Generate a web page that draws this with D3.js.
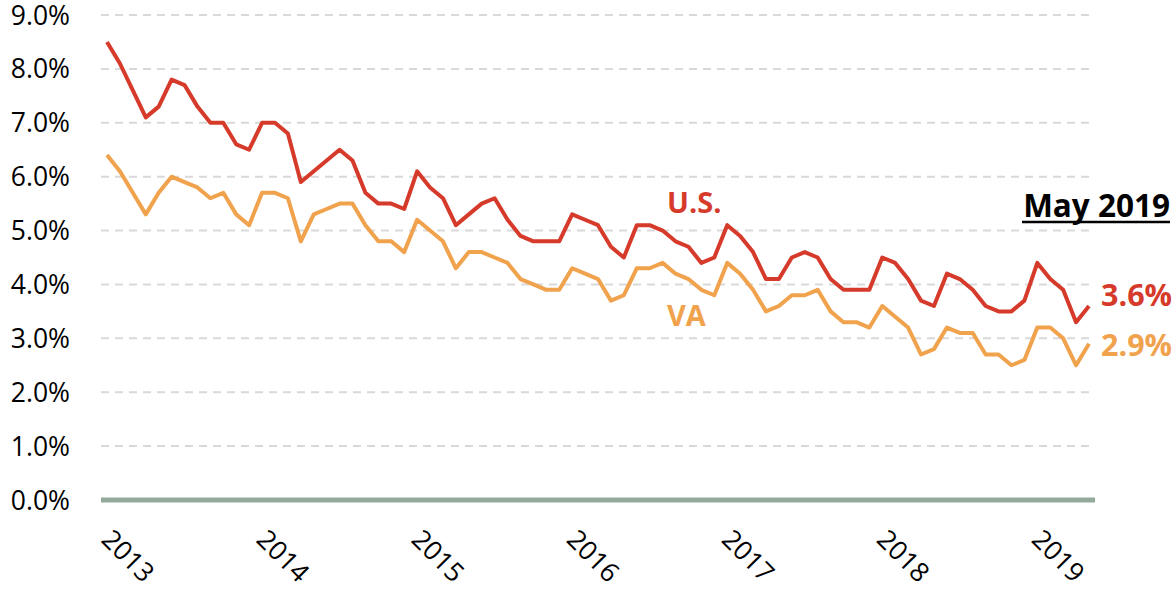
<!DOCTYPE html>
<meta charset="utf-8">
<style>
body { margin: 0; background: #fff; }
text { font-family: "Open Sans", sans-serif; }
.grid line { stroke: #d9d9d9; stroke-width: 2px; stroke-dasharray: 8,6; }
.ylab text, .xlab text { fill: #000; font-size: 26.5px; }
</style>
<svg width="1176" height="592"></svg>
<script src="https://d3js.org/d3.v7.min.js"></script>
<script>
var svg = d3.select("svg");

// monthly unemployment rate, Jan 2013 - May 2019
var years = [2013, 2014, 2015, 2016, 2017, 2018, 2019];
var yTicks = [0, 1, 2, 3, 4, 5, 6, 7, 8, 9];

var usRate = [
  8.5, 8.1, 7.6, 7.1, 7.3, 7.8, 7.7, 7.3, 7.0, 7.0, 6.6, 6.5,
  7.0, 7.0, 6.8, 5.9, 6.1, 6.3, 6.5, 6.3, 5.7, 5.5, 5.5, 5.4,
  6.1, 5.8, 5.6, 5.1, 5.3, 5.5, 5.6, 5.2, 4.9, 4.8, 4.8, 4.8,
  5.3, 5.2, 5.1, 4.7, 4.5, 5.1, 5.1, 5.0, 4.8, 4.7, 4.4, 4.5,
  5.1, 4.9, 4.6, 4.1, 4.1, 4.5, 4.6, 4.5, 4.1, 3.9, 3.9, 3.9,
  4.5, 4.4, 4.1, 3.7, 3.6, 4.2, 4.1, 3.9, 3.6, 3.5, 3.5, 3.7,
  4.4, 4.1, 3.9, 3.3, 3.6
];

var vaRate = [
  6.4, 6.1, 5.7, 5.3, 5.7, 6.0, 5.9, 5.8, 5.6, 5.7, 5.3, 5.1,
  5.7, 5.7, 5.6, 4.8, 5.3, 5.4, 5.5, 5.5, 5.1, 4.8, 4.8, 4.6,
  5.2, 5.0, 4.8, 4.3, 4.6, 4.6, 4.5, 4.4, 4.1, 4.0, 3.9, 3.9,
  4.3, 4.2, 4.1, 3.7, 3.8, 4.3, 4.3, 4.4, 4.2, 4.1, 3.9, 3.8,
  4.4, 4.2, 3.9, 3.5, 3.6, 3.8, 3.8, 3.9, 3.5, 3.3, 3.3, 3.2,
  3.6, 3.4, 3.2, 2.7, 2.8, 3.2, 3.1, 3.1, 2.7, 2.7, 2.5, 2.6,
  3.2, 3.2, 3.0, 2.5, 2.9
];

var usColor = "#d63a2a",
    vaColor = "#f0a24d";

var x = d3.scaleLinear().domain([0, usRate.length - 1]).range([107, 1089]);
var y = d3.scaleLinear().domain([0, 9]).range([500, 15]);

//dashed gridlines
svg.append("g").attr("class", "grid")
  .selectAll("line")
  .data(yTicks.filter(function(d) { return d > 0; }))
  .enter().append("line")
    .attr("x1", 101).attr("x2", 1095)
    .attr("y1", function(d) { return y(d); })
    .attr("y2", function(d) { return y(d); });

//zero line
svg.append("line")
  .attr("x1", 101).attr("x2", 1095)
  .attr("y1", y(0)).attr("y2", y(0))
  .attr("stroke", "#93a99b").attr("stroke-width", 5);

//y labels
svg.append("g").attr("class", "ylab")
  .selectAll("text")
  .data(yTicks)
  .enter().append("text")
    .attr("x", 70)
    .attr("y", function(d) { return y(d); })
    .attr("dy", "0.36em")
    .attr("text-anchor", "end")
    .text(function(d) { return d.toFixed(1) + "%"; });

//x labels, rotated
svg.append("g").attr("class", "xlab")
  .selectAll("text")
  .data(years)
  .enter().append("text")
    .attr("transform", function(d, i) {
      return "translate(" + (x(i * 12) - 7) + ",541) rotate(45)";
    })
    .attr("text-anchor", "start")
    .text(function(d) { return d; });

var line = d3.line()
  .x(function(d, i) { return x(i); })
  .y(function(d) { return y(d); });

svg.append("path").datum(vaRate)
  .attr("fill", "none").attr("stroke", vaColor)
  .attr("stroke-width", 4).attr("stroke-linejoin", "round")
  .attr("d", line);

svg.append("path").datum(usRate)
  .attr("fill", "none").attr("stroke", usColor)
  .attr("stroke-width", 4).attr("stroke-linejoin", "round")
  .attr("d", line);

//series labels
svg.append("text").attr("x", 667).attr("y", 213)
  .attr("font-size", 29).attr("font-weight", "bold")
  .attr("fill", usColor).text("U.S.");

svg.append("text").attr("x", 667).attr("y", 326)
  .attr("font-size", 29).attr("font-weight", "bold")
  .attr("fill", vaColor).text("VA");

var last = usRate.length - 1;
svg.append("text").attr("x", 1101).attr("y", 306)
  .attr("font-size", 30.5).attr("font-weight", "bold")
  .attr("fill", usColor).text(usRate[last].toFixed(1) + "%");

svg.append("text").attr("x", 1101).attr("y", 356)
  .attr("font-size", 30.5).attr("font-weight", "bold")
  .attr("fill", vaColor).text(vaRate[last].toFixed(1) + "%");

svg.append("text").attr("x", 1170).attr("y", 217)
  .attr("font-size", 31.5).attr("font-weight", "bold")
  .attr("text-anchor", "end").attr("fill", "#000")
  .text("May 2019");

svg.append("line")
  .attr("x1", 1022).attr("x2", 1170)
  .attr("y1", 222).attr("y2", 222)
  .attr("stroke", "#000").attr("stroke-width", 2.5);
</script>
